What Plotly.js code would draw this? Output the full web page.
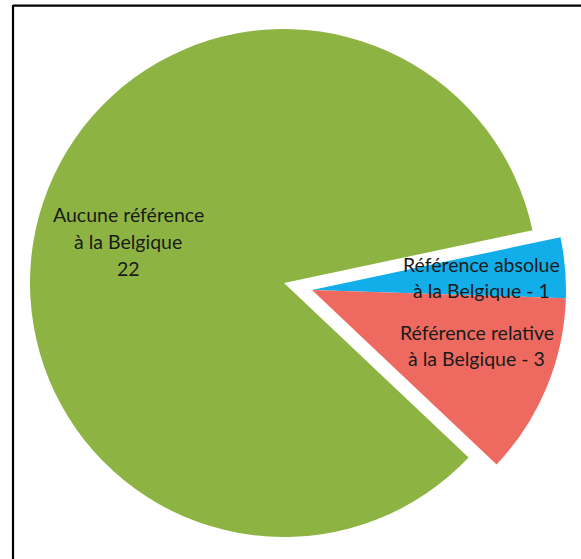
<!DOCTYPE html>
<html>
<head>
<meta charset="utf-8">
<script src="https://cdn.plot.ly/plotly-3.0.1.min.js"></script>
<style>html,body{margin:0;padding:0;background:#fff;}#chart{width:581px;height:559px;}</style>
</head>
<body>
<div id="chart"></div>
<script>
// Data
var categories = ['Référence absolue à la Belgique', 'Référence relative à la Belgique', 'Aucune référence à la Belgique'];
var values = [1, 3, 22];
var sliceColors = ['#12AEEA', '#EE6A60', '#8DB442'];
var labelLines = [
  ['Référence absolue', 'à la Belgique - ' + values[0]],
  ['Référence relative', 'à la Belgique - ' + values[1]],
  ['Aucune référence', 'à la Belgique', String(values[2])]
];

var W = 581, H = 559;
var R = 254;
function domainFor(cx, cy) {
  return {
    x: [(cx - R) / W, (cx + R) / W],
    y: [1 - (cy + R) / H, 1 - (cy - R) / H]
  };
}

var common = {
  type: 'pie',
  labels: categories,
  values: values,
  sort: false,
  direction: 'clockwise',
  rotation: 78,
  textinfo: 'none',
  hoverinfo: 'label+value',
  showlegend: false
};

// main (green) pie, other slices transparent
var t1 = Object.assign({}, common, {
  domain: domainFor(284, 283),
  marker: {colors: ['rgba(0,0,0,0)', 'rgba(0,0,0,0)', sliceColors[2]], line: {width: 0}}
});
// exploded group (blue + red), shifted together
var t2 = Object.assign({}, common, {
  domain: domainFor(312, 290),
  marker: {colors: [sliceColors[0], sliceColors[1], 'rgba(0,0,0,0)'], line: {width: 0}}
});

// label anchor positions (px) for each slice: center x, first line y
var labelPos = [[481, 264], [477, 332], [128, 215]];
var lineGap = 26.5;
var annotations = [];
labelLines.forEach(function (lines, i) {
  lines.forEach(function (txt, j) {
    annotations.push({
      xref: 'paper', yref: 'paper',
      x: labelPos[i][0] / W,
      y: 1 - (labelPos[i][1] + j * lineGap) / H,
      xanchor: 'center', yanchor: 'middle',
      text: txt, showarrow: false,
      font: {family: 'Lato, "Open Sans", sans-serif', size: 19.5, color: '#1a1a1a'}
    });
  });
});

var layout = {
  width: W, height: H,
  margin: {l: 0, r: 0, t: 0, b: 0},
  paper_bgcolor: '#ffffff',
  plot_bgcolor: '#ffffff',
  annotations: annotations,
  shapes: [
    {type: 'line', xref: 'paper', yref: 'paper', x0: 13 / W, x1: 1.02, y0: 1 - 5.7 / H, y1: 1 - 5.7 / H, line: {color: '#000', width: 2.2}},
    {type: 'line', xref: 'paper', yref: 'paper', x0: 13 / W, x1: 13 / W, y0: 1 - 5 / H, y1: -0.02, line: {color: '#000', width: 2.2}}
  ]
};

Plotly.newPlot('chart', [t1, t2], layout, {displayModeBar: false, staticPlot: true});
</script>
</body>
</html>
